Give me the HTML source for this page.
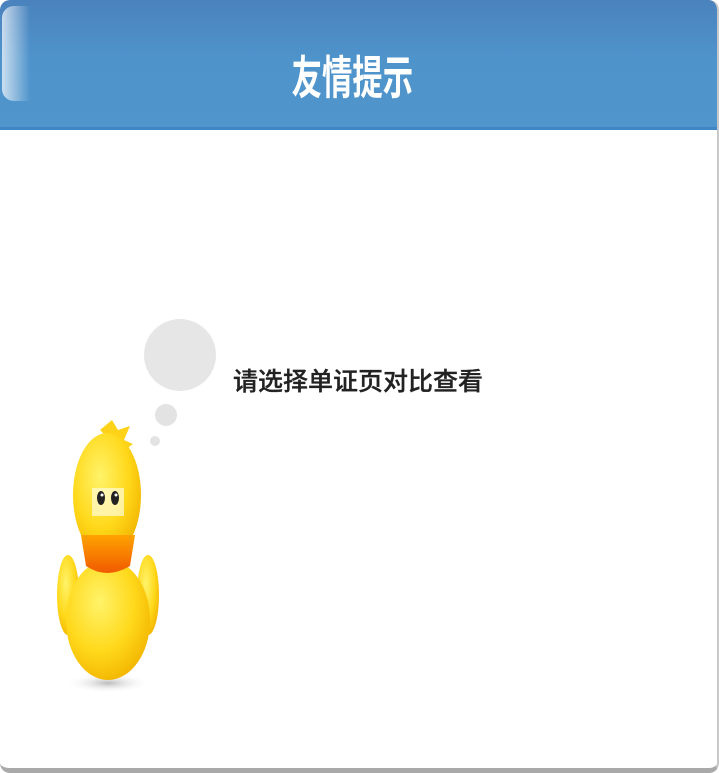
<!DOCTYPE html>
<html><head><meta charset="utf-8">
<style>
html,body{margin:0;padding:0;width:719px;height:773px;overflow:hidden;background:#fff;}
#dlg{position:absolute;left:0;top:0;width:717px;height:768px;border-radius:10px;background:#fff;border-right:2px solid #c8c8c8;border-bottom:5px solid #a9a9a9;overflow:hidden;box-sizing:content-box;}
#hdr{position:absolute;left:0;top:0;width:719px;height:127px;background:linear-gradient(#4a82bd,#4f93cb 45%,#5095cc);border-bottom:3px solid #3f86c4;}
#gloss{position:absolute;left:2px;top:6px;width:28px;height:95px;border-radius:12px 0 0 12px;background:linear-gradient(90deg,rgba(255,255,255,.7),rgba(255,255,255,0));}
#title{position:absolute;left:0;width:705px;top:48px;text-align:center;color:#fff;font:bold 46px "Liberation Sans","Noto Sans CJK SC",sans-serif;line-height:60px;transform:scaleX(.66);transform-origin:352px 0;}
#msg{position:absolute;left:233px;top:365px;font:500 25px "Liberation Sans","Noto Sans CJK SC",sans-serif;line-height:34px;color:#222;-webkit-text-stroke:0.3px #222;}
</style></head><body>
<div id="dlg">
<div id="hdr"><div id="gloss"></div>
<div id="title">友情提示</div></div>
<div id="msg">请选择单证页对比查看</div>
<svg width="719" height="773" style="position:absolute;left:0;top:0">
<defs>
<radialGradient id="y" cx="40%" cy="35%" r="70%"><stop offset="0" stop-color="#fff36a"/><stop offset=".6" stop-color="#ffd81a"/><stop offset="1" stop-color="#f2b400"/></radialGradient>
<radialGradient id="sh" cx="50%" cy="50%" r="50%"><stop offset="0" stop-color="#bbb"/><stop offset="1" stop-color="#fff" stop-opacity="0"/></radialGradient>
<linearGradient id="o" x1="0" y1="0" x2="0" y2="1"><stop offset="0" stop-color="#ffa300"/><stop offset="1" stop-color="#f05a00"/></linearGradient>
</defs>
<circle cx="180" cy="355" r="36" fill="#e6e6e6"/>
<circle cx="166" cy="415" r="11" fill="#e3e3e3"/>
<circle cx="155" cy="441" r="5" fill="#e3e3e3"/>
<ellipse cx="108" cy="683" rx="42" ry="10" fill="url(#sh)"/>
<path d="M100 430 L112 420 L118 430 L130 426 L124 440 L133 444 L122 452 Z" fill="#ffd21a"/>
<ellipse cx="68" cy="595" rx="11" ry="40" fill="url(#y)"/>
<ellipse cx="148" cy="595" rx="11" ry="40" fill="url(#y)"/>
<ellipse cx="108" cy="620" rx="42" ry="60" fill="url(#y)"/>
<ellipse cx="107" cy="495" rx="34" ry="62" fill="url(#y)"/>
<path d="M81 535 L135 535 L130 566 Q107 580 86 566 Z" fill="url(#o)"/>
<rect x="92" y="488" width="32" height="28" fill="#fffbd8" opacity=".7"/>
<ellipse cx="101" cy="498" rx="4" ry="7" fill="#222"/>
<ellipse cx="115" cy="498" rx="4" ry="7" fill="#222"/>
<circle cx="102" cy="495" r="1.5" fill="#fff"/><circle cx="116" cy="495" r="1.5" fill="#fff"/>
</svg>
</div>
</body></html>
